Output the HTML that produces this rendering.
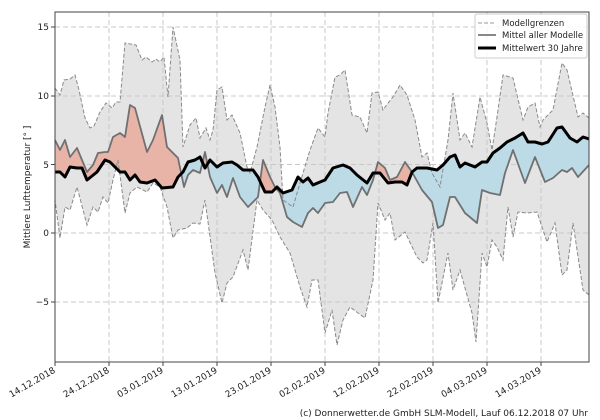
<!DOCTYPE html>
<html><head><meta charset="utf-8"><style>
html,body{margin:0;padding:0;background:#fff;width:600px;height:420px;overflow:hidden}
svg{display:block;font-family:"DejaVu Sans","Liberation Sans",sans-serif}
</style></head><body>
<svg width="600" height="420" viewBox="0 0 600 420" xmlns="http://www.w3.org/2000/svg">
<defs>
<clipPath id="plot"><rect x="55" y="12" width="534" height="350"/></clipPath>
<clipPath id="above"><polygon points="0,0 55,0 55,172 60,172 65,177 70,167 77,168 82,168 87,180 97,172 105,160 110,162 120,172 125,172 130,180 135,175 140,182 147,183 155,180 162,188 173,187 178,177 183,172 188,162 195,160 200,157 205,168 210,160 217,167 223,163 232,162 237,165 243,170 253,170 258,177 265,192 272,192 277,187 283,193 292,190 298,177 303,182 308,178 313,185 320,182 325,180 333,168 343,165 350,168 357,175 367,183 373,173 380,173 388,183 395,182 402,182 407,185 412,172 417,168 427,168 437,170 443,165 450,157 455,155 460,167 465,163 475,167 482,162 487,162 493,153 500,148 507,142 515,138 523,133 528,142 535,142 542,144 548,142 557,128 562,127 570,138 577,142 583,137 589,139 600,139 600,0"/></clipPath>
<clipPath id="below"><polygon points="0,420 55,420 55,172 60,172 65,177 70,167 77,168 82,168 87,180 97,172 105,160 110,162 120,172 125,172 130,180 135,175 140,182 147,183 155,180 162,188 173,187 178,177 183,172 188,162 195,160 200,157 205,168 210,160 217,167 223,163 232,162 237,165 243,170 253,170 258,177 265,192 272,192 277,187 283,193 292,190 298,177 303,182 308,178 313,185 320,182 325,180 333,168 343,165 350,168 357,175 367,183 373,173 380,173 388,183 395,182 402,182 407,185 412,172 417,168 427,168 437,170 443,165 450,157 455,155 460,167 465,163 475,167 482,162 487,162 493,153 500,148 507,142 515,138 523,133 528,142 535,142 542,144 548,142 557,128 562,127 570,138 577,142 583,137 589,139 600,139 600,420"/></clipPath>
</defs>
<g clip-path="url(#plot)">
<!-- band -->
<polygon fill="#e4e4e4" points="55,88 60,95 64,80 70,79 75,75 79,90 85,118 90,128 94,126 100,112 106,103 112,108 116,102 120,102 125,43 136,45 142,60 146,57 152,62 156,59 160,62 164,57 168,97 173,27 180,60 183,147 190,125 196,118 200,138 206,128 210,140 213,130 217,90 222,87 227,120 232,115 240,133 247,167 250,173 257,147 265,107 270,85 275,107 280,147 283,200 293,207 303,173 310,150 318,128 325,137 328,113 335,77 340,75 345,70 352,115 360,117 367,133 372,93 378,92 383,110 388,103 393,97 400,85 407,95 415,120 422,157 427,153 432,173 440,187 448,140 453,93 460,140 465,133 472,147 480,97 487,123 492,150 497,117 503,75 513,78 523,120 528,107 535,103 540,127 543,120 553,110 562,63 567,70 578,117 583,113 589,118
589,295 583,290 573,223 567,270 562,275 555,223 547,242 537,212 527,213 518,212 513,237 508,207 503,260 497,247 492,240 487,267 482,253 476,342 472,313 460,270 453,290 448,253 438,303 433,223 427,260 423,263 417,257 405,232 395,240 390,213 385,220 378,203 373,280 365,318 358,313 350,307 343,320 337,345 332,310 325,333 318,280 312,280 307,307 300,287 290,253 280,237 272,220 263,210 257,200 248,270 243,250 233,277 227,283 222,303 215,273 205,200 200,224 193,223 187,228 178,230 173,238 167,207 160,187 153,183 147,192 137,187 130,193 125,213 118,160 113,180 108,203 103,197 98,212 93,207 87,225 77,187 70,210 65,207 60,238 55,200"/>
<!-- grid -->
<g stroke="#c8c8c8" stroke-width="1" stroke-dasharray="5,3" fill="none">
<line x1="55" y1="27" x2="589" y2="27"/><line x1="55" y1="96" x2="589" y2="96"/><line x1="55" y1="164.5" x2="589" y2="164.5"/><line x1="55" y1="233" x2="589" y2="233"/><line x1="55" y1="302" x2="589" y2="302"/>
<line x1="109" y1="12" x2="109" y2="362"/><line x1="163" y1="12" x2="163" y2="362"/><line x1="217" y1="12" x2="217" y2="362"/><line x1="271" y1="12" x2="271" y2="362"/><line x1="325" y1="12" x2="325" y2="362"/><line x1="379" y1="12" x2="379" y2="362"/><line x1="433" y1="12" x2="433" y2="362"/><line x1="487" y1="12" x2="487" y2="362"/><line x1="541" y1="12" x2="541" y2="362"/>
</g>
<!-- fills between -->
<g id="between">
</g>
<polygon id="bt" fill="#e9b4a8" clip-path="url(#above)" points="55,140 60,150 65,140 70,157 77,148 87,172 93,165 98,153 105,152 108,152 113,137 120,133 125,137 130,105 135,108 147,152 153,140 162,115 167,147 178,158 184,187 188,175 193,170 200,173 205,152 210,177 217,193 222,185 227,197 233,178 240,197 248,207 258,197 263,160 270,177 275,187 280,193 287,217 293,222 302,227 308,213 313,208 318,213 325,203 333,202 340,193 347,192 353,207 362,187 367,195 373,180 378,162 385,168 390,180 397,177 405,162 412,172 422,190 432,202 438,228 443,225 450,197 455,197 465,213 477,223 482,190 490,193 500,195 505,173 513,150 525,183 535,157 545,182 553,178 562,170 567,172 572,168 578,177 589,165 589,139 583,137 577,142 570,138 562,127 557,128 548,142 542,144 535,142 528,142 523,133 515,138 507,142 500,148 493,153 487,162 482,162 475,167 465,163 460,167 455,155 450,157 443,165 437,170 427,168 417,168 412,172 407,185 402,182 395,182 388,183 380,173 373,173 367,183 357,175 350,168 343,165 333,168 325,180 320,182 313,185 308,178 303,182 298,177 292,190 283,193 277,187 272,192 265,192 258,177 253,170 243,170 237,165 232,162 223,163 217,167 210,160 205,168 200,157 195,160 188,162 183,172 178,177 173,187 162,188 155,180 147,183 140,182 135,175 130,180 125,172 120,172 110,162 105,160 97,172 87,180 82,168 77,168 70,167 65,177 60,172 55,172"/>
<polygon fill="#bddbe7" clip-path="url(#below)" points="55,140 60,150 65,140 70,157 77,148 87,172 93,165 98,153 105,152 108,152 113,137 120,133 125,137 130,105 135,108 147,152 153,140 162,115 167,147 178,158 184,187 188,175 193,170 200,173 205,152 210,177 217,193 222,185 227,197 233,178 240,197 248,207 258,197 263,160 270,177 275,187 280,193 287,217 293,222 302,227 308,213 313,208 318,213 325,203 333,202 340,193 347,192 353,207 362,187 367,195 373,180 378,162 385,168 390,180 397,177 405,162 412,172 422,190 432,202 438,228 443,225 450,197 455,197 465,213 477,223 482,190 490,193 500,195 505,173 513,150 525,183 535,157 545,182 553,178 562,170 567,172 572,168 578,177 589,165 589,139 583,137 577,142 570,138 562,127 557,128 548,142 542,144 535,142 528,142 523,133 515,138 507,142 500,148 493,153 487,162 482,162 475,167 465,163 460,167 455,155 450,157 443,165 437,170 427,168 417,168 412,172 407,185 402,182 395,182 388,183 380,173 373,173 367,183 357,175 350,168 343,165 333,168 325,180 320,182 313,185 308,178 303,182 298,177 292,190 283,193 277,187 272,192 265,192 258,177 253,170 243,170 237,165 232,162 223,163 217,167 210,160 205,168 200,157 195,160 188,162 183,172 178,177 173,187 162,188 155,180 147,183 140,182 135,175 130,180 125,172 120,172 110,162 105,160 97,172 87,180 82,168 77,168 70,167 65,177 60,172 55,172"/>
<!-- band edges -->
<g fill="none" stroke="#8a8a8a" stroke-width="1" stroke-dasharray="4,2">
<polyline points="55,88 60,95 64,80 70,79 75,75 79,90 85,118 90,128 94,126 100,112 106,103 112,108 116,102 120,102 125,43 136,45 142,60 146,57 152,62 156,59 160,62 164,57 168,97 173,27 180,60 183,147 190,125 196,118 200,138 206,128 210,140 213,130 217,90 222,87 227,120 232,115 240,133 247,167 250,173 257,147 265,107 270,85 275,107 280,147 283,200 293,207 303,173 310,150 318,128 325,137 328,113 335,77 340,75 345,70 352,115 360,117 367,133 372,93 378,92 383,110 388,103 393,97 400,85 407,95 415,120 422,157 427,153 432,173 440,187 448,140 453,93 460,140 465,133 472,147 480,97 487,123 492,150 497,117 503,75 513,78 523,120 528,107 535,103 540,127 543,120 553,110 562,63 567,70 578,117 583,113 589,118"/>
<polyline points="589,295 583,290 573,223 567,270 562,275 555,223 547,242 537,212 527,213 518,212 513,237 508,207 503,260 497,247 492,240 487,267 482,253 476,342 472,313 460,270 453,290 448,253 438,303 433,223 427,260 423,263 417,257 405,232 395,240 390,213 385,220 378,203 373,280 365,318 358,313 350,307 343,320 337,345 332,310 325,333 318,280 312,280 307,307 300,287 290,253 280,237 272,220 263,210 257,200 248,270 243,250 233,277 227,283 222,303 215,273 205,200 200,224 193,223 187,228 178,230 173,238 167,207 160,187 153,183 147,192 137,187 130,193 125,213 118,160 113,180 108,203 103,197 98,212 93,207 87,225 77,187 70,210 65,207 60,238 55,200"/>
</g>
<polyline fill="none" stroke="#707070" stroke-width="1.8" stroke-linejoin="round" points="55,140 60,150 65,140 70,157 77,148 87,172 93,165 98,153 105,152 108,152 113,137 120,133 125,137 130,105 135,108 147,152 153,140 162,115 167,147 178,158 184,187 188,175 193,170 200,173 205,152 210,177 217,193 222,185 227,197 233,178 240,197 248,207 258,197 263,160 270,177 275,187 280,193 287,217 293,222 302,227 308,213 313,208 318,213 325,203 333,202 340,193 347,192 353,207 362,187 367,195 373,180 378,162 385,168 390,180 397,177 405,162 412,172 422,190 432,202 438,228 443,225 450,197 455,197 465,213 477,223 482,190 490,193 500,195 505,173 513,150 525,183 535,157 545,182 553,178 562,170 567,172 572,168 578,177 589,165"/>
<polyline fill="none" stroke="#000" stroke-width="3" stroke-linejoin="round" points="55,172 60,172 65,177 70,167 77,168 82,168 87,180 97,172 105,160 110,162 120,172 125,172 130,180 135,175 140,182 147,183 155,180 162,188 173,187 178,177 183,172 188,162 195,160 200,157 205,168 210,160 217,167 223,163 232,162 237,165 243,170 253,170 258,177 265,192 272,192 277,187 283,193 292,190 298,177 303,182 308,178 313,185 320,182 325,180 333,168 343,165 350,168 357,175 367,183 373,173 380,173 388,183 395,182 402,182 407,185 412,172 417,168 427,168 437,170 443,165 450,157 455,155 460,167 465,163 475,167 482,162 487,162 493,153 500,148 507,142 515,138 523,133 528,142 535,142 542,144 548,142 557,128 562,127 570,138 577,142 583,137 589,139"/>
</g>
<rect x="55" y="12" width="534" height="350" fill="none" stroke="#444" stroke-width="1"/>
<!-- ticks -->
<g stroke="#444" stroke-width="1">
<line x1="51" y1="27" x2="55" y2="27"/><line x1="51" y1="96" x2="55" y2="96"/><line x1="51" y1="164.5" x2="55" y2="164.5"/><line x1="51" y1="233" x2="55" y2="233"/><line x1="51" y1="302" x2="55" y2="302"/>
<line x1="55" y1="362" x2="55" y2="366"/><line x1="109" y1="362" x2="109" y2="366"/><line x1="163" y1="362" x2="163" y2="366"/><line x1="217" y1="362" x2="217" y2="366"/><line x1="271" y1="362" x2="271" y2="366"/><line x1="325" y1="362" x2="325" y2="366"/><line x1="379" y1="362" x2="379" y2="366"/><line x1="433" y1="362" x2="433" y2="366"/><line x1="487" y1="362" x2="487" y2="366"/><line x1="541" y1="362" x2="541" y2="366"/>
</g>
<g font-size="9" fill="#222" text-anchor="end">
<text x="49" y="30">15</text><text x="49" y="99">10</text><text x="49" y="168">5</text><text x="49" y="236">0</text><text x="49" y="305">−5</text>
</g>
<g font-size="9" fill="#222" text-anchor="end">
<text transform="translate(56,372) rotate(-30)">14.12.2018</text>
<text transform="translate(110,372) rotate(-30)">24.12.2018</text>
<text transform="translate(164,372) rotate(-30)">03.01.2019</text>
<text transform="translate(218,372) rotate(-30)">13.01.2019</text>
<text transform="translate(272,372) rotate(-30)">23.01.2019</text>
<text transform="translate(326,372) rotate(-30)">02.02.2019</text>
<text transform="translate(380,372) rotate(-30)">12.02.2019</text>
<text transform="translate(434,372) rotate(-30)">22.02.2019</text>
<text transform="translate(488,372) rotate(-30)">04.03.2019</text>
<text transform="translate(542,372) rotate(-30)">14.03.2019</text>
</g>
<text transform="translate(30,187) rotate(-90)" font-size="9" fill="#222" text-anchor="middle">Mittlere Lufttemperatur [° ]</text>
<text x="588" y="416" font-size="9" fill="#222" text-anchor="end">(c) Donnerwetter.de GmbH SLM-Modell, Lauf 06.12.2018 07 Uhr</text>
<!-- legend -->
<rect x="475" y="14" width="112" height="44" fill="#fff" fill-opacity="0.85" stroke="#ccc" rx="2"/>
<line x1="478" y1="23" x2="496" y2="23" stroke="#999" stroke-dasharray="4,2"/>
<line x1="478" y1="35" x2="496" y2="35" stroke="#777" stroke-width="1.8"/>
<line x1="478" y1="48" x2="496" y2="48" stroke="#000" stroke-width="3"/>
<g font-size="8.5" fill="#222">
<text x="502" y="26">Modellgrenzen</text>
<text x="502" y="38">Mittel aller Modelle</text>
<text x="502" y="51">Mittelwert 30 Jahre</text>
</g>
</svg>
</body></html>
